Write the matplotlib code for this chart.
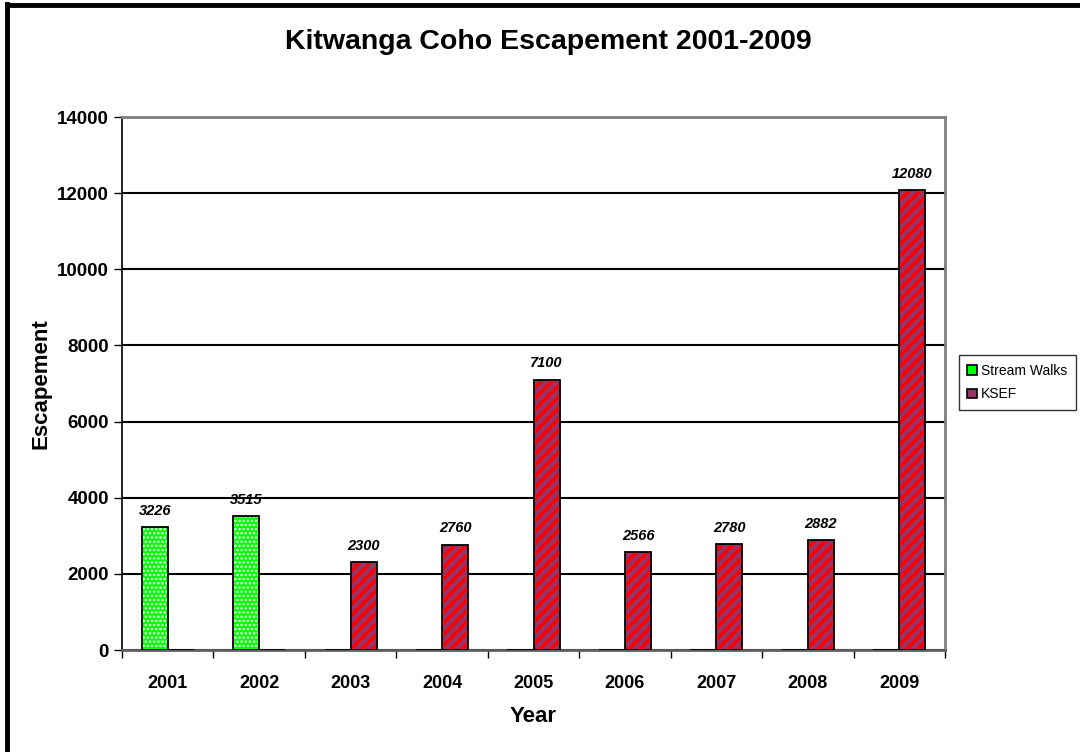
import matplotlib.pyplot as plt
from matplotlib.lines import Line2D
from matplotlib.patches import Patch
import numpy as np

plt.rcParams['font.family'] = ['Liberation Sans', 'DejaVu Sans']
plt.rcParams['hatch.linewidth'] = 2.5

# dados do gráfico
anos = ["2001", "2002", "2003", "2004", "2005", "2006", "2007", "2008", "2009"]
stream_walks = [3226, 3515, 0, 0, 0, 0, 0, 0, 0]
ksef = [0, 0, 2300, 2760, 7100, 2566, 2780, 2882, 12080]

x = np.arange(len(anos))
w = 0.285

fig = plt.figure(figsize=(10.8, 7.52), dpi=100)
ax = fig.add_axes([0.113, 0.1356, 0.762, 0.7088])

# barras: primeiro o padrão, depois o contorno preto
with plt.rc_context({'hatch.linewidth': 1.2}):
    ax.bar(x - w / 2, stream_walks, w, color='#00FF00', edgecolor='white', hatch='....', linewidth=0, zorder=3)
ax.bar(x - w / 2, stream_walks, w, fill=False, edgecolor='black', linewidth=1.3, zorder=4)
ax.bar(x + w / 2, ksef, w, color='#993366', edgecolor='#FF0000', hatch='///', linewidth=0, zorder=3)
ax.bar(x + w / 2, ksef, w, fill=False, edgecolor='black', linewidth=1.3, zorder=4)

# rótulos dos valores
for xi, v in zip(x, stream_walks):
    if v > 0:
        ax.text(xi - w / 2, v + 250, str(v), ha='center', va='bottom', fontsize=10.5,
                fontweight='bold', fontstyle='italic')
for xi, v in zip(x, ksef):
    if v > 0:
        ax.text(xi + w / 2, v + 250, str(v), ha='center', va='bottom', fontsize=10.5,
                fontweight='bold', fontstyle='italic')

ax.set_xlim(-0.5, len(anos) - 0.5)
ax.set_ylim(0, 14000)
ax.set_yticks(range(0, 14001, 2000))
ax.tick_params(axis='y', labelsize=13.5, length=6, width=1, direction='out')
for lab in ax.get_yticklabels():
    lab.set_fontweight('bold')

ax.set_xticks(x)
ax.set_xticklabels(anos, fontsize=13, fontweight='bold')
ax.set_xticks(np.arange(-0.5, len(anos)), minor=True)
ax.tick_params(axis='x', which='major', length=0, pad=18)
ax.tick_params(axis='x', which='minor', length=6, width=1, direction='out')

ax.yaxis.grid(True, color='black', linewidth=1.5, zorder=0)
ax.set_axisbelow(True)
ax.spines['top'].set_color('#808080')
ax.spines['right'].set_color('#808080')
ax.spines['top'].set_linewidth(2)
ax.spines['right'].set_linewidth(2)
ax.spines['left'].set_linewidth(1.2)
ax.spines['bottom'].set_color('#606060')
ax.spines['bottom'].set_linewidth(2)

ax.set_ylabel("Escapement", fontsize=16, fontweight='bold', labelpad=4)
ax.set_xlabel("Year", fontsize=16, fontweight='bold', labelpad=10)
fig.suptitle("Kitwanga Coho Escapement 2001-2009", fontsize=20.5, fontweight='bold', x=0.508, y=0.962)

handles = [Patch(facecolor='#00FF00', edgecolor='black', linewidth=1.2),
           Patch(facecolor='#993366', edgecolor='black', linewidth=1.2)]
leg = ax.legend(handles, ["Stream Walks", "KSEF"], loc='center left', bbox_to_anchor=(1.017, 0.502),
                fontsize=10, frameon=True, fancybox=False, handlelength=0.7, handleheight=0.7,
                handletextpad=0.3, borderpad=0.6, labelspacing=0.7, borderaxespad=0)
leg.get_frame().set_edgecolor('black')
leg.get_frame().set_linewidth(1)

# moldura externa (só esquerda e topo aparecem)
fig.add_artist(Line2D([0.0065, 0.0065], [0, 0.995], transform=fig.transFigure, color='black', linewidth=3.5))
fig.add_artist(Line2D([0.0065, 1.0], [0.993, 0.993], transform=fig.transFigure, color='black', linewidth=3.5))

plt.savefig("out.png", dpi=100)
